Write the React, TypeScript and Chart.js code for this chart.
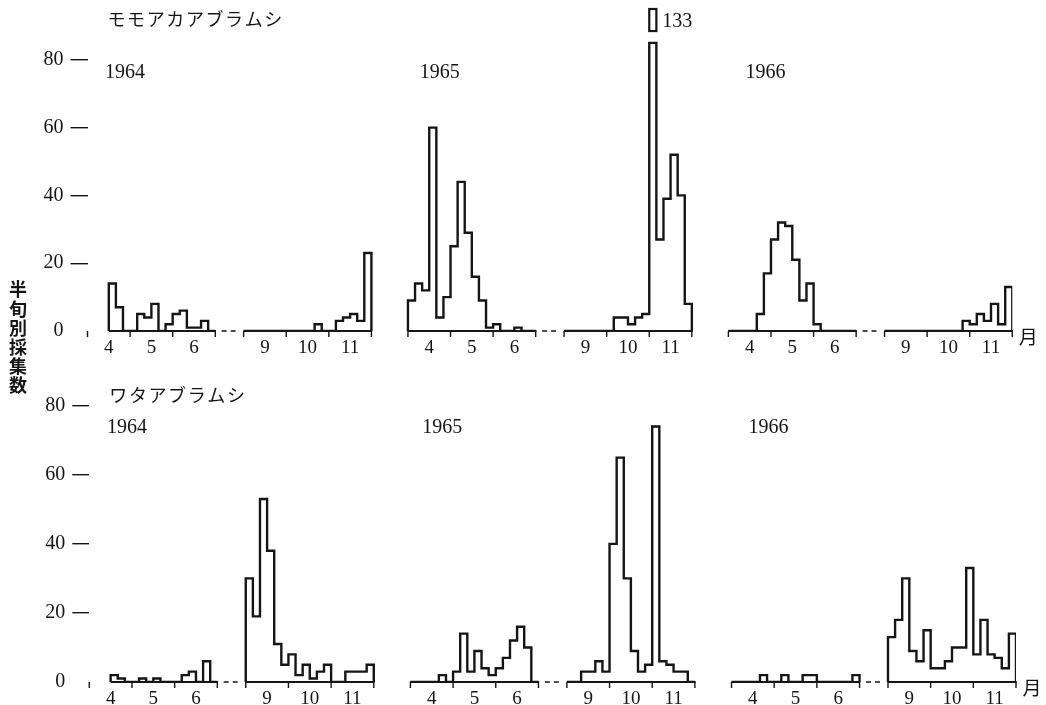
import React, { useEffect, useRef } from 'react';
import { Chart, registerables } from 'chart.js';

Chart.register(...registerables);

// ---------- labels ----------
const YEARS = ['1964', '1965', '1966'];
const SPRING_MONTHS = ['4', '5', '6'];
const AUTUMN_MONTHS = ['9', '10', '11'];
const Y_TICKS = [0, 20, 40, 60, 80];
const SPECIES_MOMO = 'モモアカアブラムシ';
const SPECIES_WATA = 'ワタアブラムシ';
const Y_TITLE = '半旬別採集数';
const MONTH_UNIT = '月';

// ---------- data: counts per half-month period (6 per month), Apr–Jun and Sep–Nov ----------
// モモアカアブラムシ
const momo1964Spring = [null, null, null, 14, 7, 0, 0, 5, 4, 8, 0, 2, 5, 6, 1, 1, 3, 0];
const momo1964Autumn = [0, 0, 0, 0, 0, 0, 0, 0, 0, 0, 2, 0, 0, 3, 4, 5, 3, 23];
const momo1965Spring = [9, 14, 12, 60, 4, 10, 25, 44, 29, 16, 9, 1, 2, 0, 0, 1, 0, 0];
const momo1965Autumn = [0, 0, 0, 0, 0, 0, 0, 4, 4, 2, 4, 5, 133, 27, 39, 52, 40, 8];
const momo1966Spring = [0, 0, 0, 0, 5, 17, 27, 32, 31, 21, 9, 14, 2, 0, 0, 0, 0, 0];
const momo1966Autumn = [0, 0, 0, 0, 0, 0, 0, 0, 0, 0, 0, 3, 2, 5, 3, 8, 2, 13];

// ワタアブラムシ
const wata1964Spring = [null, null, null, 2, 1, 0, 0, 1, 0, 1, 0, 0, 0, 2, 3, 0, 6, 0];
const wata1964Autumn = [30, 19, 53, 38, 11, 5, 8, 2, 5, 1, 3, 5, 0, 0, 3, 3, 3, 5];
const wata1965Spring = [0, 0, 0, 0, 2, 0, 3, 14, 3, 9, 4, 2, 4, 7, 12, 16, 10, 0];
const wata1965Autumn = [0, 0, 3, 3, 6, 3, 40, 65, 30, 9, 3, 5, 74, 6, 5, 3, 3, 0];
const wata1966Spring = [0, 0, 0, 0, 2, 0, 0, 2, 0, 0, 2, 2, 0, 0, 0, 0, 0, 2];
const wata1966Autumn = [13, 18, 30, 9, 6, 15, 4, 4, 6, 10, 10, 33, 8, 18, 8, 7, 4, 14];

// ---------- layout constants ----------
const PERIODS = 18;
const AUTUMN_SHIFT = 22;
const YEAR_SHIFT = 45.15;
const X_MAX = 130.3;
const Y_MAX = 95;
const BREAK_AT = 85;
const BREAK_BOX = [88.5, 95];
const YEAR_LABEL_DX = [2.48, 1.67, 2.4];
const INK = '#151515';
const SERIF = '"Liberation Serif", "Times New Roman", serif';
const CJK = '"Noto Sans CJK JP", "Noto Sans CJK SC", sans-serif';

type Vals = (number | null)[];
type Row = {
  species: string;
  data: Vals[][];
  top: number;
  height: number;
  padTop: number;
  padBottom: number;
  axisWidth: number;
  padRight: number;
  yearLabelValue: number;
  speciesY: number;
  showTitle: boolean;
};

const ROWS: Row[] = [
  {
    species: SPECIES_MOMO,
    data: [
      [momo1964Spring, momo1964Autumn],
      [momo1965Spring, momo1965Autumn],
      [momo1966Spring, momo1966Autumn],
    ],
    top: 0,
    height: 400,
    padTop: 9,
    padBottom: 69,
    axisWidth: 87.5,
    padRight: 33.7,
    yearLabelValue: 76.5,
    speciesY: 19,
    showTitle: true,
  },
  {
    species: SPECIES_WATA,
    data: [
      [wata1964Spring, wata1964Autumn],
      [wata1965Spring, wata1965Autumn],
      [wata1966Spring, wata1966Autumn],
    ],
    top: 352,
    height: 353,
    padTop: 2,
    padBottom: 23,
    axisWidth: 89.3,
    padRight: 30,
    yearLabelValue: 74,
    speciesY: 43,
    showTitle: false,
  },
];

function segmentPoints(values: Vals, start: number) {
  const first = values.findIndex((v) => v !== null);
  let last = values.length - 1;
  while (last >= 0 && values[last] === null) last--;
  const pts: { x: number; y: number }[] = [{ x: start + first, y: 0 }];
  for (let k = first; k <= last; k++) {
    pts.push({ x: start + k, y: Math.min(values[k] as number, BREAK_AT) });
  }
  pts.push({ x: start + last + 1, y: 0 });
  return pts;
}

function decorPlugin(row: Row) {
  return {
    id: 'decor',
    afterDraw(chart: any) {
      const ctx: CanvasRenderingContext2D = chart.ctx;
      const xs = chart.scales.x;
      const ys = chart.scales.y;
      const area = chart.chartArea;
      const y0 = ys.getPixelForValue(0);
      ctx.save();
      ctx.strokeStyle = INK;
      ctx.fillStyle = INK;
      ctx.lineCap = 'butt';
      row.data.forEach((seasons, yi) => {
        const base = yi * YEAR_SHIFT;
        seasons.forEach((vals, si) => {
          const start = base + si * AUTUMN_SHIFT;
          const first = vals.findIndex((v) => v !== null);
          // axis line
          ctx.setLineDash([]);
          ctx.lineWidth = 1.8;
          ctx.beginPath();
          ctx.moveTo(xs.getPixelForValue(start + first), y0);
          ctx.lineTo(xs.getPixelForValue(start + PERIODS) + 0.7, y0);
          ctx.stroke();
          // month boundary ticks
          ctx.lineWidth = 1.4;
          ctx.beginPath();
          for (let m = 0; m <= 3; m++) {
            const px = xs.getPixelForValue(start + m * 6);
            ctx.moveTo(px, y0);
            ctx.lineTo(px, y0 + 6);
          }
          ctx.stroke();
          // month labels
          ctx.font = `19px ${SERIF}`;
          ctx.textAlign = 'center';
          ctx.textBaseline = 'alphabetic';
          (si === 0 ? SPRING_MONTHS : AUTUMN_MONTHS).forEach((lab, mi) => {
            ctx.fillText(lab, xs.getPixelForValue(start + mi * 6 + 3), y0 + 21.5);
          });
          // broken bars
          vals.forEach((v, k) => {
            if (v !== null && v > BREAK_AT) {
              const xa = xs.getPixelForValue(start + k);
              const xb = xs.getPixelForValue(start + k + 1);
              const ya = ys.getPixelForValue(BREAK_BOX[0]);
              const yb = ys.getPixelForValue(BREAK_BOX[1]);
              ctx.lineWidth = 2.2;
              ctx.strokeRect(xa, yb, xb - xa, ya - yb);
              ctx.font = `20px ${SERIF}`;
              ctx.textAlign = 'left';
              ctx.textBaseline = 'alphabetic';
              ctx.fillText(String(v), xb + 6, (ya + yb) / 2 + 6.5);
            }
          });
        });
        // dashed connector between seasons
        ctx.setLineDash([5, 4]);
        ctx.lineWidth = 1.6;
        ctx.beginPath();
        ctx.moveTo(xs.getPixelForValue(base + PERIODS + 0.9), y0);
        ctx.lineTo(xs.getPixelForValue(base + AUTUMN_SHIFT - 0.9), y0);
        ctx.stroke();
        ctx.setLineDash([]);
        // year label
        ctx.font = `20px ${SERIF}`;
        ctx.textAlign = 'left';
        ctx.textBaseline = 'alphabetic';
        ctx.fillText(
          YEARS[yi],
          xs.getPixelForValue(base + YEAR_LABEL_DX[yi]),
          ys.getPixelForValue(row.yearLabelValue) + 6.6
        );
      });
      // species name
      ctx.font = `18px ${CJK}`;
      ctx.textAlign = 'center';
      ctx.textBaseline = 'middle';
      Array.from(row.species).forEach((ch, i) => {
        ctx.fillText(ch, area.left + 29 + i * 19.6, row.speciesY);
      });
      // month unit
      ctx.font = `19px ${CJK}`;
      ctx.fillText(MONTH_UNIT, xs.getPixelForValue(X_MAX) + 16, y0 + 6);
      // vertical y title
      if (row.showTitle) {
        ctx.font = `bold 18px ${CJK}`;
        Array.from(Y_TITLE).forEach((ch, i) => {
          ctx.fillText(ch, 18, 289.5 + i * 19.2);
        });
      }
      ctx.restore();
    },
  };
}

function RowChart({ row }: { row: Row }) {
  const ref = useRef<HTMLCanvasElement | null>(null);
  useEffect(() => {
    const canvas = ref.current;
    if (!canvas) return;
    const datasets: any[] = [];
    row.data.forEach((seasons, yi) =>
      seasons.forEach((vals, si) => {
        datasets.push({
          label: `${YEARS[yi]}-${si}`,
          data: segmentPoints(vals, yi * YEAR_SHIFT + si * AUTUMN_SHIFT),
          stepped: true,
          borderColor: INK,
          borderWidth: 2.4,
          borderJoinStyle: 'miter',
          pointRadius: 0,
          fill: false,
        });
      })
    );
    const chart = new Chart(canvas, {
      type: 'line',
      data: { datasets },
      options: {
        responsive: false,
        animation: false,
        devicePixelRatio: 1,
        events: [],
        layout: {
          padding: { left: 0, right: row.padRight, top: row.padTop, bottom: row.padBottom },
        },
        plugins: {
          legend: { display: false },
          tooltip: { enabled: false },
          title: { display: false },
        },
        scales: {
          x: { type: 'linear', min: 0, max: X_MAX, display: false },
          y: {
            type: 'linear',
            position: 'left',
            min: 0,
            max: Y_MAX,
            afterFit: (s: any) => {
              s.width = row.axisWidth;
              s.paddingTop = 0;
              s.paddingBottom = 0;
            },
            afterBuildTicks: (s: any) => {
              s.ticks = Y_TICKS.map((v) => ({ value: v }));
            },
            ticks: {
              font: { family: SERIF, size: 20 },
              color: INK,
              padding: 7,
            },
            grid: {
              drawOnChartArea: false,
              drawTicks: true,
              tickLength: 17,
              lineWidth: 1.4,
              color: (c: any) => (c.tick && c.tick.value === 0 ? 'rgba(0,0,0,0)' : INK),
            },
            border: { display: false },
          },
        },
      } as any,
      plugins: [decorPlugin(row)],
    });
    return () => chart.destroy();
  }, [row]);
  return (
    <canvas
      ref={ref}
      width={1046}
      height={row.height}
      style={{ position: 'absolute', left: 0, top: row.top, width: 1046, height: row.height }}
    />
  );
}

export default function App() {
  return (
    <div
      style={{
        position: 'absolute',
        left: 0,
        top: 0,
        width: 1046,
        height: 705,
        background: '#fff',
        overflow: 'hidden',
      }}
    >
      {ROWS.map((row, i) => (
        <RowChart key={i} row={row} />
      ))}
    </div>
  );
}
